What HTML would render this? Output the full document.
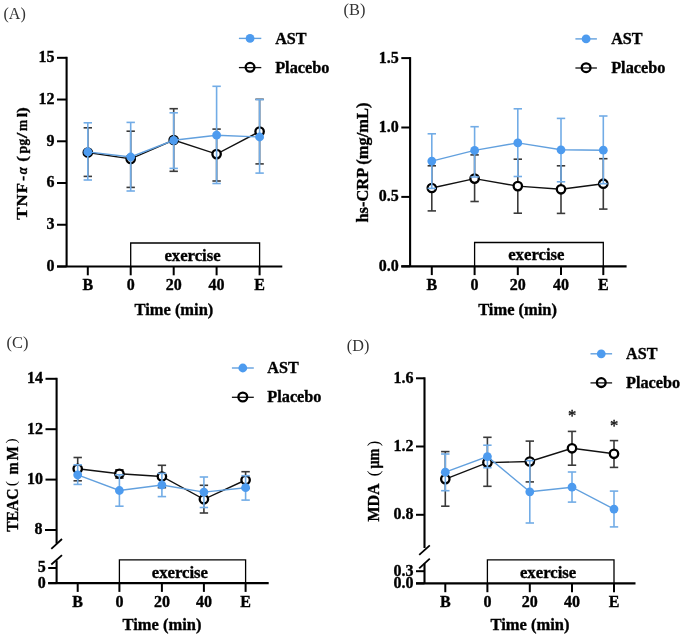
<!DOCTYPE html>
<html><head><meta charset="utf-8"><style>
html,body{margin:0;padding:0;background:#fff;width:685px;height:638px;overflow:hidden}
svg{display:block;filter:blur(0.3px)}
text{font-family:"Liberation Serif", serif}
text[font-weight="bold"]{stroke:#000;stroke-width:0.35px}
</style></head><body>
<svg width="685" height="638" viewBox="0 0 685 638">
<rect width="685" height="638" fill="#fff"/>
<text x="3.50" y="18.60" font-size="16" font-weight="normal" text-anchor="start" fill="#333" textLength="22.3" lengthAdjust="spacingAndGlyphs" >(A)</text>
<line x1="66.60" y1="56.80" x2="66.60" y2="266.50" stroke="#000" stroke-width="2.1" stroke-linecap="butt"/>
<line x1="57.00" y1="266.50" x2="66.60" y2="266.50" stroke="#000" stroke-width="2" stroke-linecap="butt"/>
<text x="54.50" y="270.90" font-size="16" font-weight="bold" text-anchor="end" fill="#000" >0</text>
<line x1="57.00" y1="224.76" x2="66.60" y2="224.76" stroke="#000" stroke-width="2" stroke-linecap="butt"/>
<text x="54.50" y="229.16" font-size="16" font-weight="bold" text-anchor="end" fill="#000" >3</text>
<line x1="57.00" y1="183.02" x2="66.60" y2="183.02" stroke="#000" stroke-width="2" stroke-linecap="butt"/>
<text x="54.50" y="187.42" font-size="16" font-weight="bold" text-anchor="end" fill="#000" >6</text>
<line x1="57.00" y1="141.28" x2="66.60" y2="141.28" stroke="#000" stroke-width="2" stroke-linecap="butt"/>
<text x="54.50" y="145.68" font-size="16" font-weight="bold" text-anchor="end" fill="#000" >9</text>
<line x1="57.00" y1="99.54" x2="66.60" y2="99.54" stroke="#000" stroke-width="2" stroke-linecap="butt"/>
<text x="54.50" y="103.94" font-size="16" font-weight="bold" text-anchor="end" fill="#000" >12</text>
<line x1="57.00" y1="57.81" x2="66.60" y2="57.81" stroke="#000" stroke-width="2" stroke-linecap="butt"/>
<text x="54.50" y="62.21" font-size="16" font-weight="bold" text-anchor="end" fill="#000" >15</text>
<line x1="57.00" y1="266.50" x2="282.30" y2="266.50" stroke="#000" stroke-width="2.2" stroke-linecap="butt"/>
<line x1="87.80" y1="266.50" x2="87.80" y2="275.30" stroke="#000" stroke-width="2" stroke-linecap="butt"/>
<text x="87.80" y="290.40" font-size="16" font-weight="bold" text-anchor="middle" fill="#000" >B</text>
<line x1="130.70" y1="266.50" x2="130.70" y2="275.30" stroke="#000" stroke-width="2" stroke-linecap="butt"/>
<text x="130.70" y="290.40" font-size="16" font-weight="bold" text-anchor="middle" fill="#000" >0</text>
<line x1="173.70" y1="266.50" x2="173.70" y2="275.30" stroke="#000" stroke-width="2" stroke-linecap="butt"/>
<text x="173.70" y="290.40" font-size="16" font-weight="bold" text-anchor="middle" fill="#000" >20</text>
<line x1="216.60" y1="266.50" x2="216.60" y2="275.30" stroke="#000" stroke-width="2" stroke-linecap="butt"/>
<text x="216.60" y="290.40" font-size="16" font-weight="bold" text-anchor="middle" fill="#000" >40</text>
<line x1="259.60" y1="266.50" x2="259.60" y2="275.30" stroke="#000" stroke-width="2" stroke-linecap="butt"/>
<text x="259.60" y="290.40" font-size="16" font-weight="bold" text-anchor="middle" fill="#000" >E</text>
<polyline points="130.70,266.50 130.70,243.00 259.60,243.00 259.60,266.50" fill="none" stroke="#000" stroke-width="1.3"/>
<text x="192.55" y="260.80" font-size="16.8" font-weight="bold" text-anchor="middle" fill="#000" textLength="56.3" lengthAdjust="spacingAndGlyphs" >exercise</text>
<text x="173.90" y="315.00" font-size="16.8" font-weight="bold" text-anchor="middle" fill="#000" textLength="78.8" lengthAdjust="spacingAndGlyphs" >Time (min)</text>
<g transform="translate(26.90,0) rotate(-90)">
<text x="-112.70" y="0" font-size="15.6" font-weight="bold" font-style="normal" textLength="5.50" lengthAdjust="spacingAndGlyphs">)</text>
<text x="-117.30" y="0" font-size="15.6" font-weight="bold" font-style="normal" textLength="4.50" lengthAdjust="spacingAndGlyphs">l</text>
<text x="-131.10" y="0" font-size="15.6" font-weight="bold" font-style="normal" textLength="11.20" lengthAdjust="spacingAndGlyphs">m</text>
<text x="-138.30" y="0" font-size="15.6" font-weight="bold" font-style="normal" textLength="5.60" lengthAdjust="spacingAndGlyphs">/</text>
<text x="-145.40" y="0" font-size="15.6" font-weight="bold" font-style="normal" textLength="6.60" lengthAdjust="spacingAndGlyphs">g</text>
<text x="-153.60" y="0" font-size="15.6" font-weight="bold" font-style="normal" textLength="7.70" lengthAdjust="spacingAndGlyphs">p</text>
<text x="-161.70" y="0" font-size="15.6" font-weight="bold" font-style="normal" textLength="5.60" lengthAdjust="spacingAndGlyphs">(</text>
<text x="-174.30" y="0" font-size="15.6" font-weight="bold" font-style="italic" textLength="7.10" lengthAdjust="spacingAndGlyphs">α</text>
<text x="-180.90" y="0" font-size="15.6" font-weight="bold" font-style="normal" textLength="5.10" lengthAdjust="spacingAndGlyphs">-</text>
<text x="-193.20" y="0" font-size="15.6" font-weight="bold" font-style="normal" textLength="10.20" lengthAdjust="spacingAndGlyphs">F</text>
<text x="-206.40" y="0" font-size="15.6" font-weight="bold" font-style="normal" textLength="12.20" lengthAdjust="spacingAndGlyphs">N</text>
<text x="-219.70" y="0" font-size="15.6" font-weight="bold" font-style="normal" textLength="12.20" lengthAdjust="spacingAndGlyphs">T</text>
</g>
<line x1="238.90" y1="38.40" x2="261.30" y2="38.40" stroke="#62a0de" stroke-width="1.4" stroke-linecap="butt"/>
<circle cx="250.05" cy="38.40" r="4.4" fill="#4d9bef"/>
<text x="275.20" y="43.60" font-size="17.2" font-weight="bold" text-anchor="start" fill="#000" textLength="31.4" lengthAdjust="spacingAndGlyphs" >AST</text>
<line x1="238.90" y1="67.60" x2="261.30" y2="67.60" stroke="#111" stroke-width="1.3" stroke-linecap="butt"/>
<circle cx="250.05" cy="67.30" r="4.4" fill="none" stroke="#000" stroke-width="2.3"/>
<text x="275.20" y="72.50" font-size="17.2" font-weight="bold" text-anchor="start" fill="#000" textLength="54.2" lengthAdjust="spacingAndGlyphs" >Placebo</text>
<line x1="87.80" y1="127.80" x2="87.80" y2="176.40" stroke="#3a3a3a" stroke-width="1.6" stroke-linecap="butt"/>
<line x1="83.60" y1="127.80" x2="92.00" y2="127.80" stroke="#3a3a3a" stroke-width="1.6" stroke-linecap="butt"/>
<line x1="83.60" y1="176.40" x2="92.00" y2="176.40" stroke="#3a3a3a" stroke-width="1.6" stroke-linecap="butt"/>
<line x1="130.70" y1="131.20" x2="130.70" y2="187.40" stroke="#3a3a3a" stroke-width="1.6" stroke-linecap="butt"/>
<line x1="126.50" y1="131.20" x2="134.90" y2="131.20" stroke="#3a3a3a" stroke-width="1.6" stroke-linecap="butt"/>
<line x1="126.50" y1="187.40" x2="134.90" y2="187.40" stroke="#3a3a3a" stroke-width="1.6" stroke-linecap="butt"/>
<line x1="173.70" y1="108.70" x2="173.70" y2="171.30" stroke="#3a3a3a" stroke-width="1.6" stroke-linecap="butt"/>
<line x1="169.50" y1="108.70" x2="177.90" y2="108.70" stroke="#3a3a3a" stroke-width="1.6" stroke-linecap="butt"/>
<line x1="169.50" y1="171.30" x2="177.90" y2="171.30" stroke="#3a3a3a" stroke-width="1.6" stroke-linecap="butt"/>
<line x1="216.60" y1="129.10" x2="216.60" y2="181.00" stroke="#3a3a3a" stroke-width="1.6" stroke-linecap="butt"/>
<line x1="212.40" y1="129.10" x2="220.80" y2="129.10" stroke="#3a3a3a" stroke-width="1.6" stroke-linecap="butt"/>
<line x1="212.40" y1="181.00" x2="220.80" y2="181.00" stroke="#3a3a3a" stroke-width="1.6" stroke-linecap="butt"/>
<line x1="259.60" y1="99.30" x2="259.60" y2="163.90" stroke="#3a3a3a" stroke-width="1.6" stroke-linecap="butt"/>
<line x1="255.40" y1="99.30" x2="263.80" y2="99.30" stroke="#3a3a3a" stroke-width="1.6" stroke-linecap="butt"/>
<line x1="255.40" y1="163.90" x2="263.80" y2="163.90" stroke="#3a3a3a" stroke-width="1.6" stroke-linecap="butt"/>
<polyline points="87.80,152.50 130.70,158.90 173.70,140.00 216.60,154.10 259.60,131.50" fill="none" stroke="#111" stroke-width="1.4"/>
<circle cx="87.80" cy="152.50" r="4.2" fill="#fff" stroke="#000" stroke-width="2.3"/>
<circle cx="130.70" cy="158.90" r="4.2" fill="#fff" stroke="#000" stroke-width="2.3"/>
<circle cx="173.70" cy="140.00" r="4.2" fill="#fff" stroke="#000" stroke-width="2.3"/>
<circle cx="216.60" cy="154.10" r="4.2" fill="#fff" stroke="#000" stroke-width="2.3"/>
<circle cx="259.60" cy="131.50" r="4.2" fill="#fff" stroke="#000" stroke-width="2.3"/>
<line x1="87.80" y1="122.80" x2="87.80" y2="180.00" stroke="#72ace6" stroke-width="1.6" stroke-linecap="butt"/>
<line x1="83.60" y1="122.80" x2="92.00" y2="122.80" stroke="#72ace6" stroke-width="1.6" stroke-linecap="butt"/>
<line x1="83.60" y1="180.00" x2="92.00" y2="180.00" stroke="#72ace6" stroke-width="1.6" stroke-linecap="butt"/>
<line x1="130.70" y1="122.40" x2="130.70" y2="191.00" stroke="#72ace6" stroke-width="1.6" stroke-linecap="butt"/>
<line x1="126.50" y1="122.40" x2="134.90" y2="122.40" stroke="#72ace6" stroke-width="1.6" stroke-linecap="butt"/>
<line x1="126.50" y1="191.00" x2="134.90" y2="191.00" stroke="#72ace6" stroke-width="1.6" stroke-linecap="butt"/>
<line x1="173.70" y1="112.80" x2="173.70" y2="168.40" stroke="#72ace6" stroke-width="1.6" stroke-linecap="butt"/>
<line x1="169.50" y1="112.80" x2="177.90" y2="112.80" stroke="#72ace6" stroke-width="1.6" stroke-linecap="butt"/>
<line x1="169.50" y1="168.40" x2="177.90" y2="168.40" stroke="#72ace6" stroke-width="1.6" stroke-linecap="butt"/>
<line x1="216.60" y1="86.30" x2="216.60" y2="183.50" stroke="#72ace6" stroke-width="1.6" stroke-linecap="butt"/>
<line x1="212.40" y1="86.30" x2="220.80" y2="86.30" stroke="#72ace6" stroke-width="1.6" stroke-linecap="butt"/>
<line x1="212.40" y1="183.50" x2="220.80" y2="183.50" stroke="#72ace6" stroke-width="1.6" stroke-linecap="butt"/>
<line x1="259.60" y1="99.60" x2="259.60" y2="173.10" stroke="#72ace6" stroke-width="1.6" stroke-linecap="butt"/>
<line x1="255.40" y1="99.60" x2="263.80" y2="99.60" stroke="#72ace6" stroke-width="1.6" stroke-linecap="butt"/>
<line x1="255.40" y1="173.10" x2="263.80" y2="173.10" stroke="#72ace6" stroke-width="1.6" stroke-linecap="butt"/>
<polyline points="87.80,151.90 130.70,157.00 173.70,140.30 216.60,135.20 259.60,137.00" fill="none" stroke="#62a0de" stroke-width="1.4"/>
<circle cx="87.80" cy="151.90" r="4.4" fill="#4d9bef"/>
<circle cx="130.70" cy="157.00" r="4.4" fill="#4d9bef"/>
<circle cx="173.70" cy="140.30" r="4.4" fill="#4d9bef"/>
<circle cx="216.60" cy="135.20" r="4.4" fill="#4d9bef"/>
<circle cx="259.60" cy="137.00" r="4.4" fill="#4d9bef"/>
<text x="343.60" y="15.00" font-size="16" font-weight="normal" text-anchor="start" fill="#333" textLength="21.9" lengthAdjust="spacingAndGlyphs" >(B)</text>
<line x1="410.10" y1="57.10" x2="410.10" y2="266.30" stroke="#000" stroke-width="2.1" stroke-linecap="butt"/>
<line x1="401.30" y1="266.30" x2="410.10" y2="266.30" stroke="#000" stroke-width="2" stroke-linecap="butt"/>
<text x="398.80" y="270.70" font-size="16" font-weight="bold" text-anchor="end" fill="#000" >0.0</text>
<line x1="401.30" y1="196.90" x2="410.10" y2="196.90" stroke="#000" stroke-width="2" stroke-linecap="butt"/>
<text x="398.80" y="201.30" font-size="16" font-weight="bold" text-anchor="end" fill="#000" >0.5</text>
<line x1="401.30" y1="127.50" x2="410.10" y2="127.50" stroke="#000" stroke-width="2" stroke-linecap="butt"/>
<text x="398.80" y="131.90" font-size="16" font-weight="bold" text-anchor="end" fill="#000" >1.0</text>
<line x1="401.30" y1="58.10" x2="410.10" y2="58.10" stroke="#000" stroke-width="2" stroke-linecap="butt"/>
<text x="398.80" y="62.50" font-size="16" font-weight="bold" text-anchor="end" fill="#000" >1.5</text>
<line x1="401.30" y1="266.30" x2="626.60" y2="266.30" stroke="#000" stroke-width="2.2" stroke-linecap="butt"/>
<line x1="431.80" y1="266.30" x2="431.80" y2="275.10" stroke="#000" stroke-width="2" stroke-linecap="butt"/>
<text x="431.80" y="290.20" font-size="16" font-weight="bold" text-anchor="middle" fill="#000" >B</text>
<line x1="474.60" y1="266.30" x2="474.60" y2="275.10" stroke="#000" stroke-width="2" stroke-linecap="butt"/>
<text x="474.60" y="290.20" font-size="16" font-weight="bold" text-anchor="middle" fill="#000" >0</text>
<line x1="517.80" y1="266.30" x2="517.80" y2="275.10" stroke="#000" stroke-width="2" stroke-linecap="butt"/>
<text x="517.80" y="290.20" font-size="16" font-weight="bold" text-anchor="middle" fill="#000" >20</text>
<line x1="561.00" y1="266.30" x2="561.00" y2="275.10" stroke="#000" stroke-width="2" stroke-linecap="butt"/>
<text x="561.00" y="290.20" font-size="16" font-weight="bold" text-anchor="middle" fill="#000" >40</text>
<line x1="603.30" y1="266.30" x2="603.30" y2="275.10" stroke="#000" stroke-width="2" stroke-linecap="butt"/>
<text x="603.30" y="290.20" font-size="16" font-weight="bold" text-anchor="middle" fill="#000" >E</text>
<polyline points="474.60,266.30 474.60,242.50 603.30,242.50 603.30,266.30" fill="none" stroke="#000" stroke-width="1.3"/>
<text x="536.35" y="260.30" font-size="16.8" font-weight="bold" text-anchor="middle" fill="#000" textLength="56.3" lengthAdjust="spacingAndGlyphs" >exercise</text>
<text x="517.60" y="315.00" font-size="16.8" font-weight="bold" text-anchor="middle" fill="#000" textLength="78.8" lengthAdjust="spacingAndGlyphs" >Time (min)</text>
<g transform="translate(368.20,0) rotate(-90)">
<text x="-222.60" y="0" font-size="16.8" font-weight="bold" font-style="normal" textLength="120.00" lengthAdjust="spacingAndGlyphs">hs-CRP (mg/mL)</text>
</g>
<line x1="575.40" y1="38.90" x2="596.90" y2="38.90" stroke="#62a0de" stroke-width="1.4" stroke-linecap="butt"/>
<circle cx="586.10" cy="38.90" r="4.4" fill="#4d9bef"/>
<text x="611.20" y="44.10" font-size="17.2" font-weight="bold" text-anchor="start" fill="#000" textLength="31.4" lengthAdjust="spacingAndGlyphs" >AST</text>
<line x1="575.40" y1="68.00" x2="596.90" y2="68.00" stroke="#111" stroke-width="1.3" stroke-linecap="butt"/>
<circle cx="586.10" cy="67.70" r="4.4" fill="none" stroke="#000" stroke-width="2.3"/>
<text x="611.20" y="72.90" font-size="17.2" font-weight="bold" text-anchor="start" fill="#000" textLength="54.2" lengthAdjust="spacingAndGlyphs" >Placebo</text>
<line x1="431.80" y1="165.80" x2="431.80" y2="210.90" stroke="#3a3a3a" stroke-width="1.6" stroke-linecap="butt"/>
<line x1="427.60" y1="165.80" x2="436.00" y2="165.80" stroke="#3a3a3a" stroke-width="1.6" stroke-linecap="butt"/>
<line x1="427.60" y1="210.90" x2="436.00" y2="210.90" stroke="#3a3a3a" stroke-width="1.6" stroke-linecap="butt"/>
<line x1="474.60" y1="154.90" x2="474.60" y2="201.50" stroke="#3a3a3a" stroke-width="1.6" stroke-linecap="butt"/>
<line x1="470.40" y1="154.90" x2="478.80" y2="154.90" stroke="#3a3a3a" stroke-width="1.6" stroke-linecap="butt"/>
<line x1="470.40" y1="201.50" x2="478.80" y2="201.50" stroke="#3a3a3a" stroke-width="1.6" stroke-linecap="butt"/>
<line x1="517.80" y1="159.20" x2="517.80" y2="213.20" stroke="#3a3a3a" stroke-width="1.6" stroke-linecap="butt"/>
<line x1="513.60" y1="159.20" x2="522.00" y2="159.20" stroke="#3a3a3a" stroke-width="1.6" stroke-linecap="butt"/>
<line x1="513.60" y1="213.20" x2="522.00" y2="213.20" stroke="#3a3a3a" stroke-width="1.6" stroke-linecap="butt"/>
<line x1="561.00" y1="165.80" x2="561.00" y2="213.40" stroke="#3a3a3a" stroke-width="1.6" stroke-linecap="butt"/>
<line x1="556.80" y1="165.80" x2="565.20" y2="165.80" stroke="#3a3a3a" stroke-width="1.6" stroke-linecap="butt"/>
<line x1="556.80" y1="213.40" x2="565.20" y2="213.40" stroke="#3a3a3a" stroke-width="1.6" stroke-linecap="butt"/>
<line x1="603.30" y1="158.70" x2="603.30" y2="209.10" stroke="#3a3a3a" stroke-width="1.6" stroke-linecap="butt"/>
<line x1="599.10" y1="158.70" x2="607.50" y2="158.70" stroke="#3a3a3a" stroke-width="1.6" stroke-linecap="butt"/>
<line x1="599.10" y1="209.10" x2="607.50" y2="209.10" stroke="#3a3a3a" stroke-width="1.6" stroke-linecap="butt"/>
<polyline points="431.80,188.00 474.60,178.60 517.80,186.10 561.00,189.30 603.30,183.70" fill="none" stroke="#111" stroke-width="1.4"/>
<circle cx="431.80" cy="188.00" r="4.2" fill="#fff" stroke="#000" stroke-width="2.3"/>
<circle cx="474.60" cy="178.60" r="4.2" fill="#fff" stroke="#000" stroke-width="2.3"/>
<circle cx="517.80" cy="186.10" r="4.2" fill="#fff" stroke="#000" stroke-width="2.3"/>
<circle cx="561.00" cy="189.30" r="4.2" fill="#fff" stroke="#000" stroke-width="2.3"/>
<circle cx="603.30" cy="183.70" r="4.2" fill="#fff" stroke="#000" stroke-width="2.3"/>
<line x1="431.80" y1="133.80" x2="431.80" y2="188.40" stroke="#72ace6" stroke-width="1.6" stroke-linecap="butt"/>
<line x1="427.60" y1="133.80" x2="436.00" y2="133.80" stroke="#72ace6" stroke-width="1.6" stroke-linecap="butt"/>
<line x1="427.60" y1="188.40" x2="436.00" y2="188.40" stroke="#72ace6" stroke-width="1.6" stroke-linecap="butt"/>
<line x1="474.60" y1="126.70" x2="474.60" y2="177.00" stroke="#72ace6" stroke-width="1.6" stroke-linecap="butt"/>
<line x1="470.40" y1="126.70" x2="478.80" y2="126.70" stroke="#72ace6" stroke-width="1.6" stroke-linecap="butt"/>
<line x1="470.40" y1="177.00" x2="478.80" y2="177.00" stroke="#72ace6" stroke-width="1.6" stroke-linecap="butt"/>
<line x1="517.80" y1="108.80" x2="517.80" y2="176.50" stroke="#72ace6" stroke-width="1.6" stroke-linecap="butt"/>
<line x1="513.60" y1="108.80" x2="522.00" y2="108.80" stroke="#72ace6" stroke-width="1.6" stroke-linecap="butt"/>
<line x1="513.60" y1="176.50" x2="522.00" y2="176.50" stroke="#72ace6" stroke-width="1.6" stroke-linecap="butt"/>
<line x1="561.00" y1="118.40" x2="561.00" y2="181.80" stroke="#72ace6" stroke-width="1.6" stroke-linecap="butt"/>
<line x1="556.80" y1="118.40" x2="565.20" y2="118.40" stroke="#72ace6" stroke-width="1.6" stroke-linecap="butt"/>
<line x1="556.80" y1="181.80" x2="565.20" y2="181.80" stroke="#72ace6" stroke-width="1.6" stroke-linecap="butt"/>
<line x1="603.30" y1="116.00" x2="603.30" y2="183.70" stroke="#72ace6" stroke-width="1.6" stroke-linecap="butt"/>
<line x1="599.10" y1="116.00" x2="607.50" y2="116.00" stroke="#72ace6" stroke-width="1.6" stroke-linecap="butt"/>
<line x1="599.10" y1="183.70" x2="607.50" y2="183.70" stroke="#72ace6" stroke-width="1.6" stroke-linecap="butt"/>
<polyline points="431.80,161.10 474.60,150.40 517.80,142.90 561.00,149.80 603.30,150.20" fill="none" stroke="#62a0de" stroke-width="1.4"/>
<circle cx="431.80" cy="161.10" r="4.4" fill="#4d9bef"/>
<circle cx="474.60" cy="150.40" r="4.4" fill="#4d9bef"/>
<circle cx="517.80" cy="142.90" r="4.4" fill="#4d9bef"/>
<circle cx="561.00" cy="149.80" r="4.4" fill="#4d9bef"/>
<circle cx="603.30" cy="150.20" r="4.4" fill="#4d9bef"/>
<text x="6.60" y="348.30" font-size="16" font-weight="normal" text-anchor="start" fill="#333" textLength="21.9" lengthAdjust="spacingAndGlyphs" >(C)</text>
<line x1="56.60" y1="377.80" x2="56.60" y2="543.50" stroke="#000" stroke-width="2.1" stroke-linecap="butt"/>
<line x1="56.60" y1="560.50" x2="56.60" y2="583.10" stroke="#000" stroke-width="2.1" stroke-linecap="butt"/>
<line x1="45.50" y1="378.80" x2="56.60" y2="378.80" stroke="#000" stroke-width="2" stroke-linecap="butt"/>
<text x="43.00" y="383.20" font-size="16" font-weight="bold" text-anchor="end" fill="#000" >14</text>
<line x1="45.50" y1="429.20" x2="56.60" y2="429.20" stroke="#000" stroke-width="2" stroke-linecap="butt"/>
<text x="43.00" y="433.60" font-size="16" font-weight="bold" text-anchor="end" fill="#000" >12</text>
<line x1="45.50" y1="479.60" x2="56.60" y2="479.60" stroke="#000" stroke-width="2" stroke-linecap="butt"/>
<text x="43.00" y="484.00" font-size="16" font-weight="bold" text-anchor="end" fill="#000" >10</text>
<line x1="45.00" y1="530.00" x2="56.60" y2="530.00" stroke="#000" stroke-width="2" stroke-linecap="butt"/>
<text x="42.50" y="534.40" font-size="16" font-weight="bold" text-anchor="end" fill="#000" >8</text>
<line x1="48.20" y1="568.00" x2="56.60" y2="568.00" stroke="#000" stroke-width="2" stroke-linecap="butt"/>
<text x="45.70" y="572.40" font-size="16" font-weight="bold" text-anchor="end" fill="#000" >5</text>
<line x1="48.20" y1="583.10" x2="56.60" y2="583.10" stroke="#000" stroke-width="2" stroke-linecap="butt"/>
<text x="45.70" y="587.50" font-size="16" font-weight="bold" text-anchor="end" fill="#000" >0</text>
<line x1="51.30" y1="548.80" x2="62.00" y2="539.00" stroke="#000" stroke-width="1.8" stroke-linecap="butt"/>
<line x1="51.30" y1="564.50" x2="62.00" y2="555.10" stroke="#000" stroke-width="1.8" stroke-linecap="butt"/>
<line x1="48.20" y1="583.10" x2="268.70" y2="583.10" stroke="#000" stroke-width="2.2" stroke-linecap="butt"/>
<line x1="77.70" y1="583.10" x2="77.70" y2="591.90" stroke="#000" stroke-width="2" stroke-linecap="butt"/>
<text x="77.70" y="607.00" font-size="16" font-weight="bold" text-anchor="middle" fill="#000" >B</text>
<line x1="119.40" y1="583.10" x2="119.40" y2="591.90" stroke="#000" stroke-width="2" stroke-linecap="butt"/>
<text x="119.40" y="607.00" font-size="16" font-weight="bold" text-anchor="middle" fill="#000" >0</text>
<line x1="161.90" y1="583.10" x2="161.90" y2="591.90" stroke="#000" stroke-width="2" stroke-linecap="butt"/>
<text x="161.90" y="607.00" font-size="16" font-weight="bold" text-anchor="middle" fill="#000" >20</text>
<line x1="203.90" y1="583.10" x2="203.90" y2="591.90" stroke="#000" stroke-width="2" stroke-linecap="butt"/>
<text x="203.90" y="607.00" font-size="16" font-weight="bold" text-anchor="middle" fill="#000" >40</text>
<line x1="245.60" y1="583.10" x2="245.60" y2="591.90" stroke="#000" stroke-width="2" stroke-linecap="butt"/>
<text x="245.60" y="607.00" font-size="16" font-weight="bold" text-anchor="middle" fill="#000" >E</text>
<polyline points="119.40,583.10 119.40,559.90 245.60,559.90 245.60,583.10" fill="none" stroke="#000" stroke-width="1.3"/>
<text x="179.90" y="577.70" font-size="16.8" font-weight="bold" text-anchor="middle" fill="#000" textLength="56.3" lengthAdjust="spacingAndGlyphs" >exercise</text>
<text x="162.00" y="630.30" font-size="16.8" font-weight="bold" text-anchor="middle" fill="#000" textLength="78.8" lengthAdjust="spacingAndGlyphs" >Time (min)</text>
<g transform="translate(18.20,0) rotate(-90)">
<text x="-531.70" y="0" font-size="16.8" font-weight="bold" font-style="normal" textLength="43.20" lengthAdjust="spacingAndGlyphs">TEAC</text>
<text x="-486.20" y="-2.2" font-size="14.5" font-weight="normal" font-style="normal" textLength="5.20" lengthAdjust="spacingAndGlyphs">(</text>
<text x="-474.50" y="0" font-size="16.8" font-weight="bold" font-style="normal" textLength="12.30" lengthAdjust="spacingAndGlyphs">m</text>
<text x="-460.20" y="0" font-size="16.8" font-weight="bold" font-style="normal" textLength="13.90" lengthAdjust="spacingAndGlyphs">M</text>
<text x="-443.40" y="-2.2" font-size="14.5" font-weight="normal" font-style="normal" textLength="5.20" lengthAdjust="spacingAndGlyphs">)</text>
</g>
<line x1="231.90" y1="368.00" x2="253.80" y2="368.00" stroke="#62a0de" stroke-width="1.4" stroke-linecap="butt"/>
<circle cx="242.80" cy="368.00" r="4.4" fill="#4d9bef"/>
<text x="267.30" y="373.20" font-size="17.2" font-weight="bold" text-anchor="start" fill="#000" textLength="31.4" lengthAdjust="spacingAndGlyphs" >AST</text>
<line x1="231.90" y1="397.30" x2="253.80" y2="397.30" stroke="#111" stroke-width="1.3" stroke-linecap="butt"/>
<circle cx="242.80" cy="397.00" r="4.4" fill="none" stroke="#000" stroke-width="2.3"/>
<text x="267.30" y="402.20" font-size="17.2" font-weight="bold" text-anchor="start" fill="#000" textLength="54.2" lengthAdjust="spacingAndGlyphs" >Placebo</text>
<line x1="77.70" y1="457.50" x2="77.70" y2="480.80" stroke="#3a3a3a" stroke-width="1.6" stroke-linecap="butt"/>
<line x1="73.50" y1="457.50" x2="81.90" y2="457.50" stroke="#3a3a3a" stroke-width="1.6" stroke-linecap="butt"/>
<line x1="73.50" y1="480.80" x2="81.90" y2="480.80" stroke="#3a3a3a" stroke-width="1.6" stroke-linecap="butt"/>
<line x1="119.40" y1="469.80" x2="119.40" y2="478.10" stroke="#3a3a3a" stroke-width="1.6" stroke-linecap="butt"/>
<line x1="115.20" y1="469.80" x2="123.60" y2="469.80" stroke="#3a3a3a" stroke-width="1.6" stroke-linecap="butt"/>
<line x1="115.20" y1="478.10" x2="123.60" y2="478.10" stroke="#3a3a3a" stroke-width="1.6" stroke-linecap="butt"/>
<line x1="161.90" y1="465.30" x2="161.90" y2="487.70" stroke="#3a3a3a" stroke-width="1.6" stroke-linecap="butt"/>
<line x1="157.70" y1="465.30" x2="166.10" y2="465.30" stroke="#3a3a3a" stroke-width="1.6" stroke-linecap="butt"/>
<line x1="157.70" y1="487.70" x2="166.10" y2="487.70" stroke="#3a3a3a" stroke-width="1.6" stroke-linecap="butt"/>
<line x1="203.90" y1="485.30" x2="203.90" y2="513.00" stroke="#3a3a3a" stroke-width="1.6" stroke-linecap="butt"/>
<line x1="199.70" y1="485.30" x2="208.10" y2="485.30" stroke="#3a3a3a" stroke-width="1.6" stroke-linecap="butt"/>
<line x1="199.70" y1="513.00" x2="208.10" y2="513.00" stroke="#3a3a3a" stroke-width="1.6" stroke-linecap="butt"/>
<line x1="245.60" y1="471.70" x2="245.60" y2="488.30" stroke="#3a3a3a" stroke-width="1.6" stroke-linecap="butt"/>
<line x1="241.40" y1="471.70" x2="249.80" y2="471.70" stroke="#3a3a3a" stroke-width="1.6" stroke-linecap="butt"/>
<line x1="241.40" y1="488.30" x2="249.80" y2="488.30" stroke="#3a3a3a" stroke-width="1.6" stroke-linecap="butt"/>
<polyline points="77.70,468.80 119.40,473.80 161.90,476.50 203.90,499.30 245.60,480.00" fill="none" stroke="#111" stroke-width="1.4"/>
<circle cx="77.70" cy="468.80" r="4.2" fill="#fff" stroke="#000" stroke-width="2.3"/>
<circle cx="119.40" cy="473.80" r="4.2" fill="#fff" stroke="#000" stroke-width="2.3"/>
<circle cx="161.90" cy="476.50" r="4.2" fill="#fff" stroke="#000" stroke-width="2.3"/>
<circle cx="203.90" cy="499.30" r="4.2" fill="#fff" stroke="#000" stroke-width="2.3"/>
<circle cx="245.60" cy="480.00" r="4.2" fill="#fff" stroke="#000" stroke-width="2.3"/>
<line x1="77.70" y1="464.80" x2="77.70" y2="484.40" stroke="#72ace6" stroke-width="1.6" stroke-linecap="butt"/>
<line x1="73.50" y1="464.80" x2="81.90" y2="464.80" stroke="#72ace6" stroke-width="1.6" stroke-linecap="butt"/>
<line x1="73.50" y1="484.40" x2="81.90" y2="484.40" stroke="#72ace6" stroke-width="1.6" stroke-linecap="butt"/>
<line x1="119.40" y1="474.80" x2="119.40" y2="506.20" stroke="#72ace6" stroke-width="1.6" stroke-linecap="butt"/>
<line x1="115.20" y1="474.80" x2="123.60" y2="474.80" stroke="#72ace6" stroke-width="1.6" stroke-linecap="butt"/>
<line x1="115.20" y1="506.20" x2="123.60" y2="506.20" stroke="#72ace6" stroke-width="1.6" stroke-linecap="butt"/>
<line x1="161.90" y1="473.40" x2="161.90" y2="496.60" stroke="#72ace6" stroke-width="1.6" stroke-linecap="butt"/>
<line x1="157.70" y1="473.40" x2="166.10" y2="473.40" stroke="#72ace6" stroke-width="1.6" stroke-linecap="butt"/>
<line x1="157.70" y1="496.60" x2="166.10" y2="496.60" stroke="#72ace6" stroke-width="1.6" stroke-linecap="butt"/>
<line x1="203.90" y1="477.00" x2="203.90" y2="507.50" stroke="#72ace6" stroke-width="1.6" stroke-linecap="butt"/>
<line x1="199.70" y1="477.00" x2="208.10" y2="477.00" stroke="#72ace6" stroke-width="1.6" stroke-linecap="butt"/>
<line x1="199.70" y1="507.50" x2="208.10" y2="507.50" stroke="#72ace6" stroke-width="1.6" stroke-linecap="butt"/>
<line x1="245.60" y1="475.70" x2="245.60" y2="500.10" stroke="#72ace6" stroke-width="1.6" stroke-linecap="butt"/>
<line x1="241.40" y1="475.70" x2="249.80" y2="475.70" stroke="#72ace6" stroke-width="1.6" stroke-linecap="butt"/>
<line x1="241.40" y1="500.10" x2="249.80" y2="500.10" stroke="#72ace6" stroke-width="1.6" stroke-linecap="butt"/>
<polyline points="77.70,474.80 119.40,490.50 161.90,485.00 203.90,492.10 245.60,487.70" fill="none" stroke="#62a0de" stroke-width="1.4"/>
<circle cx="77.70" cy="474.80" r="4.4" fill="#4d9bef"/>
<circle cx="119.40" cy="490.50" r="4.4" fill="#4d9bef"/>
<circle cx="161.90" cy="485.00" r="4.4" fill="#4d9bef"/>
<circle cx="203.90" cy="492.10" r="4.4" fill="#4d9bef"/>
<circle cx="245.60" cy="487.70" r="4.4" fill="#4d9bef"/>
<text x="346.80" y="351.00" font-size="16" font-weight="normal" text-anchor="start" fill="#333" textLength="22.5" lengthAdjust="spacingAndGlyphs" >(D)</text>
<line x1="424.50" y1="377.30" x2="424.50" y2="548.00" stroke="#000" stroke-width="2.1" stroke-linecap="butt"/>
<line x1="424.50" y1="563.50" x2="424.50" y2="583.40" stroke="#000" stroke-width="2.1" stroke-linecap="butt"/>
<line x1="416.00" y1="378.30" x2="424.50" y2="378.30" stroke="#000" stroke-width="2" stroke-linecap="butt"/>
<text x="413.50" y="382.70" font-size="16" font-weight="bold" text-anchor="end" fill="#000" >1.6</text>
<line x1="416.00" y1="446.50" x2="424.50" y2="446.50" stroke="#000" stroke-width="2" stroke-linecap="butt"/>
<text x="413.50" y="450.90" font-size="16" font-weight="bold" text-anchor="end" fill="#000" >1.2</text>
<line x1="416.00" y1="514.80" x2="424.50" y2="514.80" stroke="#000" stroke-width="2" stroke-linecap="butt"/>
<text x="413.50" y="519.20" font-size="16" font-weight="bold" text-anchor="end" fill="#000" >0.8</text>
<line x1="416.00" y1="571.20" x2="424.50" y2="571.20" stroke="#000" stroke-width="2" stroke-linecap="butt"/>
<text x="413.50" y="575.60" font-size="16" font-weight="bold" text-anchor="end" fill="#000" >0.3</text>
<line x1="416.00" y1="583.40" x2="424.50" y2="583.40" stroke="#000" stroke-width="2" stroke-linecap="butt"/>
<text x="413.50" y="587.80" font-size="16" font-weight="bold" text-anchor="end" fill="#000" >0.0</text>
<line x1="419.20" y1="554.80" x2="429.80" y2="545.40" stroke="#000" stroke-width="1.8" stroke-linecap="butt"/>
<line x1="419.20" y1="568.30" x2="429.80" y2="558.60" stroke="#000" stroke-width="1.8" stroke-linecap="butt"/>
<line x1="416.00" y1="583.40" x2="635.50" y2="583.40" stroke="#000" stroke-width="2.2" stroke-linecap="butt"/>
<line x1="445.30" y1="583.40" x2="445.30" y2="592.20" stroke="#000" stroke-width="2" stroke-linecap="butt"/>
<text x="445.30" y="607.30" font-size="16" font-weight="bold" text-anchor="middle" fill="#000" >B</text>
<line x1="487.40" y1="583.40" x2="487.40" y2="592.20" stroke="#000" stroke-width="2" stroke-linecap="butt"/>
<text x="487.40" y="607.30" font-size="16" font-weight="bold" text-anchor="middle" fill="#000" >0</text>
<line x1="529.80" y1="583.40" x2="529.80" y2="592.20" stroke="#000" stroke-width="2" stroke-linecap="butt"/>
<text x="529.80" y="607.30" font-size="16" font-weight="bold" text-anchor="middle" fill="#000" >20</text>
<line x1="572.00" y1="583.40" x2="572.00" y2="592.20" stroke="#000" stroke-width="2" stroke-linecap="butt"/>
<text x="572.00" y="607.30" font-size="16" font-weight="bold" text-anchor="middle" fill="#000" >40</text>
<line x1="614.00" y1="583.40" x2="614.00" y2="592.20" stroke="#000" stroke-width="2" stroke-linecap="butt"/>
<text x="614.00" y="607.30" font-size="16" font-weight="bold" text-anchor="middle" fill="#000" >E</text>
<polyline points="487.40,583.40 487.40,559.90 614.00,559.90 614.00,583.40" fill="none" stroke="#000" stroke-width="1.3"/>
<text x="548.10" y="577.70" font-size="16.8" font-weight="bold" text-anchor="middle" fill="#000" textLength="56.3" lengthAdjust="spacingAndGlyphs" >exercise</text>
<text x="530.00" y="630.30" font-size="16.8" font-weight="bold" text-anchor="middle" fill="#000" textLength="78.8" lengthAdjust="spacingAndGlyphs" >Time (min)</text>
<g transform="translate(378.60,0) rotate(-90)">
<text x="-521.60" y="0" font-size="16.8" font-weight="bold" font-style="normal" textLength="38.10" lengthAdjust="spacingAndGlyphs">MDA</text>
<text x="-476.50" y="0" font-size="16.4" font-weight="normal" font-style="normal" textLength="6.00" lengthAdjust="spacingAndGlyphs">(</text>
<text x="-468.60" y="0" font-size="16.8" font-weight="bold" font-style="normal" textLength="19.80" lengthAdjust="spacingAndGlyphs">μm</text>
<text x="-446.20" y="0" font-size="16.4" font-weight="normal" font-style="normal" textLength="5.40" lengthAdjust="spacingAndGlyphs">)</text>
</g>
<line x1="590.50" y1="353.80" x2="612.10" y2="353.80" stroke="#62a0de" stroke-width="1.4" stroke-linecap="butt"/>
<circle cx="601.25" cy="353.80" r="4.4" fill="#4d9bef"/>
<text x="626.00" y="359.00" font-size="17.2" font-weight="bold" text-anchor="start" fill="#000" textLength="31.4" lengthAdjust="spacingAndGlyphs" >AST</text>
<line x1="590.50" y1="382.90" x2="612.10" y2="382.90" stroke="#111" stroke-width="1.3" stroke-linecap="butt"/>
<circle cx="601.25" cy="382.60" r="4.4" fill="none" stroke="#000" stroke-width="2.3"/>
<text x="626.00" y="387.80" font-size="17.2" font-weight="bold" text-anchor="start" fill="#000" textLength="54.2" lengthAdjust="spacingAndGlyphs" >Placebo</text>
<line x1="445.30" y1="451.60" x2="445.30" y2="506.20" stroke="#3a3a3a" stroke-width="1.6" stroke-linecap="butt"/>
<line x1="441.10" y1="451.60" x2="449.50" y2="451.60" stroke="#3a3a3a" stroke-width="1.6" stroke-linecap="butt"/>
<line x1="441.10" y1="506.20" x2="449.50" y2="506.20" stroke="#3a3a3a" stroke-width="1.6" stroke-linecap="butt"/>
<line x1="487.40" y1="437.30" x2="487.40" y2="486.30" stroke="#3a3a3a" stroke-width="1.6" stroke-linecap="butt"/>
<line x1="483.20" y1="437.30" x2="491.60" y2="437.30" stroke="#3a3a3a" stroke-width="1.6" stroke-linecap="butt"/>
<line x1="483.20" y1="486.30" x2="491.60" y2="486.30" stroke="#3a3a3a" stroke-width="1.6" stroke-linecap="butt"/>
<line x1="529.80" y1="441.10" x2="529.80" y2="481.90" stroke="#3a3a3a" stroke-width="1.6" stroke-linecap="butt"/>
<line x1="525.60" y1="441.10" x2="534.00" y2="441.10" stroke="#3a3a3a" stroke-width="1.6" stroke-linecap="butt"/>
<line x1="525.60" y1="481.90" x2="534.00" y2="481.90" stroke="#3a3a3a" stroke-width="1.6" stroke-linecap="butt"/>
<line x1="572.00" y1="431.40" x2="572.00" y2="465.20" stroke="#3a3a3a" stroke-width="1.6" stroke-linecap="butt"/>
<line x1="567.80" y1="431.40" x2="576.20" y2="431.40" stroke="#3a3a3a" stroke-width="1.6" stroke-linecap="butt"/>
<line x1="567.80" y1="465.20" x2="576.20" y2="465.20" stroke="#3a3a3a" stroke-width="1.6" stroke-linecap="butt"/>
<line x1="614.00" y1="440.60" x2="614.00" y2="467.40" stroke="#3a3a3a" stroke-width="1.6" stroke-linecap="butt"/>
<line x1="609.80" y1="440.60" x2="618.20" y2="440.60" stroke="#3a3a3a" stroke-width="1.6" stroke-linecap="butt"/>
<line x1="609.80" y1="467.40" x2="618.20" y2="467.40" stroke="#3a3a3a" stroke-width="1.6" stroke-linecap="butt"/>
<polyline points="445.30,479.10 487.40,462.60 529.80,461.50 572.00,448.30 614.00,453.80" fill="none" stroke="#111" stroke-width="1.4"/>
<circle cx="445.30" cy="479.10" r="4.2" fill="#fff" stroke="#000" stroke-width="2.3"/>
<circle cx="487.40" cy="462.60" r="4.2" fill="#fff" stroke="#000" stroke-width="2.3"/>
<circle cx="529.80" cy="461.50" r="4.2" fill="#fff" stroke="#000" stroke-width="2.3"/>
<circle cx="572.00" cy="448.30" r="4.2" fill="#fff" stroke="#000" stroke-width="2.3"/>
<circle cx="614.00" cy="453.80" r="4.2" fill="#fff" stroke="#000" stroke-width="2.3"/>
<line x1="445.30" y1="454.00" x2="445.30" y2="490.70" stroke="#72ace6" stroke-width="1.6" stroke-linecap="butt"/>
<line x1="441.10" y1="454.00" x2="449.50" y2="454.00" stroke="#72ace6" stroke-width="1.6" stroke-linecap="butt"/>
<line x1="441.10" y1="490.70" x2="449.50" y2="490.70" stroke="#72ace6" stroke-width="1.6" stroke-linecap="butt"/>
<line x1="487.40" y1="445.20" x2="487.40" y2="467.70" stroke="#72ace6" stroke-width="1.6" stroke-linecap="butt"/>
<line x1="483.20" y1="445.20" x2="491.60" y2="445.20" stroke="#72ace6" stroke-width="1.6" stroke-linecap="butt"/>
<line x1="483.20" y1="467.70" x2="491.60" y2="467.70" stroke="#72ace6" stroke-width="1.6" stroke-linecap="butt"/>
<line x1="529.80" y1="460.60" x2="529.80" y2="523.00" stroke="#72ace6" stroke-width="1.6" stroke-linecap="butt"/>
<line x1="525.60" y1="460.60" x2="534.00" y2="460.60" stroke="#72ace6" stroke-width="1.6" stroke-linecap="butt"/>
<line x1="525.60" y1="523.00" x2="534.00" y2="523.00" stroke="#72ace6" stroke-width="1.6" stroke-linecap="butt"/>
<line x1="572.00" y1="472.00" x2="572.00" y2="502.10" stroke="#72ace6" stroke-width="1.6" stroke-linecap="butt"/>
<line x1="567.80" y1="472.00" x2="576.20" y2="472.00" stroke="#72ace6" stroke-width="1.6" stroke-linecap="butt"/>
<line x1="567.80" y1="502.10" x2="576.20" y2="502.10" stroke="#72ace6" stroke-width="1.6" stroke-linecap="butt"/>
<line x1="614.00" y1="491.10" x2="614.00" y2="526.90" stroke="#72ace6" stroke-width="1.6" stroke-linecap="butt"/>
<line x1="609.80" y1="491.10" x2="618.20" y2="491.10" stroke="#72ace6" stroke-width="1.6" stroke-linecap="butt"/>
<line x1="609.80" y1="526.90" x2="618.20" y2="526.90" stroke="#72ace6" stroke-width="1.6" stroke-linecap="butt"/>
<polyline points="445.30,472.20 487.40,456.60 529.80,491.80 572.00,487.20 614.00,509.10" fill="none" stroke="#62a0de" stroke-width="1.4"/>
<circle cx="445.30" cy="472.20" r="4.4" fill="#4d9bef"/>
<circle cx="487.40" cy="456.60" r="4.4" fill="#4d9bef"/>
<circle cx="529.80" cy="491.80" r="4.4" fill="#4d9bef"/>
<circle cx="572.00" cy="487.20" r="4.4" fill="#4d9bef"/>
<circle cx="614.00" cy="509.10" r="4.4" fill="#4d9bef"/>
<text x="572.00" y="421.40" font-size="16.5" font-weight="normal" text-anchor="middle" fill="#111" stroke="#111" stroke-width="0.4">*</text>
<text x="614.00" y="431.20" font-size="16.5" font-weight="normal" text-anchor="middle" fill="#111" stroke="#111" stroke-width="0.4">*</text>
</svg></body></html>
